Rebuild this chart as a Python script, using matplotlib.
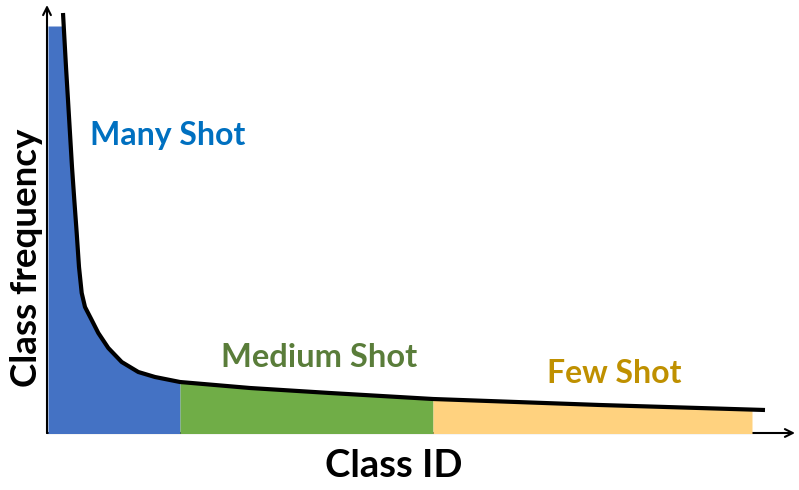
import matplotlib
matplotlib.use("Agg")
import matplotlib.pyplot as plt
import numpy as np

# Data (class ID vs. class frequency, arbitrary units)
class_id = [16, 19, 21, 25, 27.3, 29.7, 32, 34.7, 38, 44.7, 51.3, 61.3, 74.7, 91.3, 108,
            133, 203, 283, 386, 553, 718]
frequency = [420, 366, 333, 266, 233, 200, 166, 140, 126, 113, 100, 85, 71, 61, 56,
             51, 45, 40, 34, 28, 23]
fill_cap = 407
head_start = 1
medium_start = 133
few_start = 386
fill_end = 705
x_max = 748
y_max = 428

region_labels = ["Many Shot", "Medium Shot", "Few Shot"]
region_colors = ["#4472C4", "#70AD47", "#FFD27F"]
label_colors = ["#0070C0", "#5A7D3A", "#BF9000"]

W, H = 799, 490
fig = plt.figure(figsize=(W / 100, H / 100), dpi=100)
fig.patch.set_facecolor("white")
ax = fig.add_axes([47 / W, (H - 433) / H, x_max / W, y_max / H])
ax.set_xlim(0, x_max)
ax.set_ylim(0, y_max)
ax.axis("off")

x = np.array(class_id, dtype=float)
y = np.array(frequency, dtype=float)

# axes arrows
ax.annotate("", xy=(1, 0), xytext=(0, 0), xycoords="axes fraction",
            arrowprops=dict(arrowstyle="->", lw=1.5, color="black", mutation_scale=14,
                            shrinkA=0, shrinkB=0), zorder=1, annotation_clip=False)
ax.annotate("", xy=(0, 1), xytext=(0, 0), xycoords="axes fraction",
            arrowprops=dict(arrowstyle="->", lw=1.5, color="black", mutation_scale=14,
                            shrinkA=0, shrinkB=0), zorder=1, annotation_clip=False)

def segment(x0, x1):
    xs = np.concatenate([[x0], x[(x > x0) & (x < x1)], [x1]])
    ys = np.minimum(np.interp(xs, x, y, left=fill_cap), fill_cap)
    return xs, ys

bounds = [(head_start, medium_start), (medium_start, few_start), (few_start, fill_end)]
for (x0, x1), c in zip(bounds, region_colors):
    xs, ys = segment(x0, x1)
    ax.fill_between(xs, -1.5, ys, color=c, lw=0, zorder=2)

ax.plot(x, y, color="black", lw=3, zorder=3, solid_capstyle="butt", solid_joinstyle="round")

font = "Lato"
ax.text(43, 298, region_labels[0], color=label_colors[0], fontsize=23, fontweight="bold",
        family=font, ha="left", va="center", zorder=4)
ax.text(272, 76, region_labels[1], color=label_colors[1], fontsize=23.5, fontweight="bold",
        family=font, ha="center", va="center", zorder=4)
ax.text(567, 60, region_labels[2], color=label_colors[2], fontsize=23, fontweight="bold",
        family=font, ha="center", va="center", zorder=4)

fig.text(394 / W, 1 - 466 / H, "Class ID", fontsize=27.5, fontweight="bold", family=font,
         ha="center", va="center")
fig.text(27 / W, 1 - 258 / H, "Class frequency", fontsize=26.5, fontweight="bold", family=font,
         ha="center", va="center", rotation=90)

fig.savefig("out.png", dpi=100, facecolor="white")
